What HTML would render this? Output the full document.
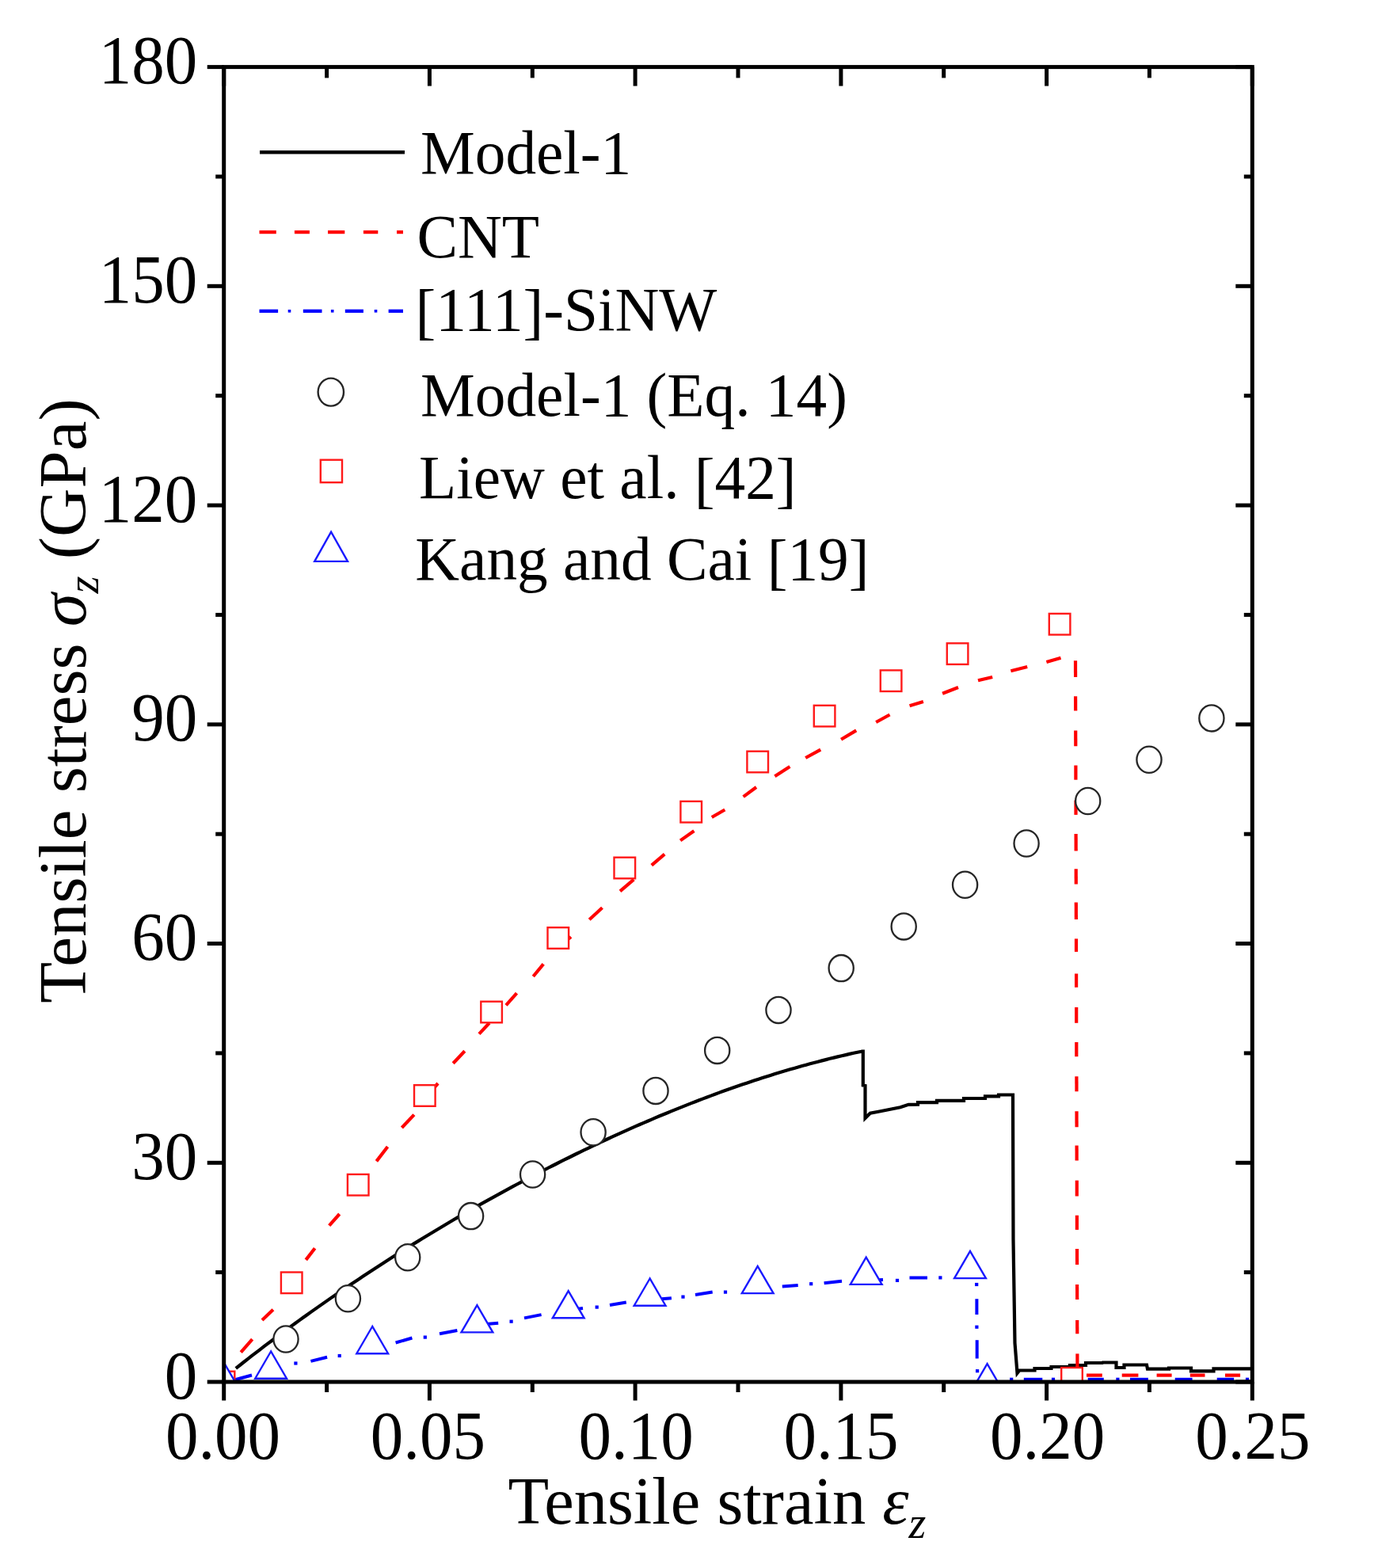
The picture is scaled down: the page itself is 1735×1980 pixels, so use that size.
<!DOCTYPE html>
<html><head><meta charset="utf-8"><title>Tensile stress vs strain</title>
<style>html,body{margin:0;padding:0;background:#fff;} svg{display:block;}</style>
</head><body>
<svg width="1735" height="1980" viewBox="0 0 1735 1980">
<rect x="0" y="0" width="1735" height="1980" fill="#fff"/>
<defs><clipPath id="pa"><rect x="282.7" y="84.6" width="1298.6" height="1660.4"/></clipPath></defs>
<g clip-path="url(#pa)">
<polyline points="297.8,1727.9 302.8,1724.0 307.8,1720.0 312.8,1716.1 317.8,1712.2 322.8,1708.4 327.8,1704.6 332.8,1700.7 337.8,1696.9 342.8,1693.2 347.8,1689.4 352.8,1685.7 357.8,1682.0 362.8,1678.3 367.8,1674.6 372.8,1671.0 377.8,1667.4 382.8,1663.8 387.8,1660.2 392.8,1656.6 397.8,1653.1 402.8,1649.6 407.8,1646.1 412.8,1642.6 417.8,1639.1 422.8,1635.7 427.8,1632.2 432.8,1628.8 437.8,1625.4 442.8,1622.0 447.8,1618.7 452.8,1615.4 457.8,1612.0 462.8,1608.7 467.8,1605.4 472.8,1602.2 477.8,1598.9 482.8,1595.7 487.8,1592.5 492.8,1589.3 497.8,1586.1 502.8,1582.9 507.8,1579.8 512.8,1576.7 517.8,1573.5 522.8,1570.4 527.8,1567.4 532.8,1564.3 537.8,1561.2 542.8,1558.2 547.8,1555.2 552.8,1552.2 557.8,1549.2 562.8,1546.2 567.8,1543.3 572.8,1540.3 577.8,1537.4 582.8,1534.5 587.8,1531.6 592.8,1528.7 597.8,1525.9 602.8,1523.0 607.8,1520.2 612.8,1517.4 617.8,1514.6 622.8,1511.8 627.8,1509.1 632.8,1506.3 637.8,1503.6 642.8,1500.9 647.8,1498.2 652.8,1495.5 657.8,1492.8 662.8,1490.1 667.8,1487.5 672.8,1484.9 677.8,1482.3 682.8,1479.7 687.8,1477.1 692.8,1474.5 697.8,1472.0 702.8,1469.5 707.8,1466.9 712.8,1464.4 717.8,1462.0 722.8,1459.5 727.8,1457.0 732.8,1454.6 737.8,1452.2 742.8,1449.8 747.8,1447.4 752.8,1445.0 757.8,1442.7 762.8,1440.3 767.8,1438.0 772.8,1435.7 777.8,1433.4 782.8,1431.1 787.8,1428.9 792.8,1426.6 797.8,1424.4 802.8,1422.2 807.8,1420.0 812.8,1417.8 817.8,1415.7 822.8,1413.6 827.8,1411.4 832.8,1409.3 837.8,1407.2 842.8,1405.2 847.8,1403.1 852.8,1401.1 857.8,1399.1 862.8,1397.1 867.8,1395.1 872.8,1393.1 877.8,1391.2 882.8,1389.3 887.8,1387.4 892.8,1385.5 897.8,1383.6 902.8,1381.8 907.8,1379.9 912.8,1378.1 917.8,1376.3 922.8,1374.6 927.8,1372.8 932.8,1371.1 937.8,1369.3 942.8,1367.7 947.8,1366.0 952.8,1364.3 957.8,1362.7 962.8,1361.1 967.8,1359.5 972.8,1357.9 977.8,1356.3 982.8,1354.8 987.8,1353.3 992.8,1351.8 997.8,1350.3 1002.8,1348.9 1007.8,1347.5 1012.8,1346.1 1017.8,1344.7 1022.8,1343.3 1027.8,1342.0 1032.8,1340.7 1037.8,1339.4 1042.8,1338.1 1047.8,1336.8 1052.8,1335.6 1057.8,1334.4 1062.8,1333.2 1067.8,1332.1 1072.8,1330.9 1077.8,1329.8 1082.8,1328.7 1087.8,1327.7 1088.4,1327.5 1089.8,1327.5 1089.8,1370.5 1092.5,1371.0 1092.5,1412.0 1098.8,1405.8 1109.2,1403.7 1123.0,1401.0 1136.8,1398.2 1147.2,1394.8 1159.0,1394.6 1159.0,1392.2 1183.0,1392.2 1183.0,1389.8 1217.0,1389.8 1217.0,1387.0 1244.0,1387.0 1244.0,1384.4 1261.0,1384.4 1261.0,1382.5 1279.0,1382.5 1279.5,1565.0 1281.5,1696.0 1284.5,1734.0 1287.3,1730.5 1306.5,1730.5 1306.5,1728.0 1327.5,1728.0 1327.5,1726.0 1351.0,1726.0 1351.0,1724.0 1371.0,1724.0 1371.0,1721.0 1392.0,1721.0 1392.5,1720.5 1409.5,1720.5 1409.5,1727.0 1419.5,1727.0 1419.5,1723.5 1448.0,1723.5 1449.0,1728.7 1476.0,1728.7 1476.0,1727.5 1504.0,1727.5 1504.0,1731.4 1532.5,1731.4 1532.5,1728.4 1585.0,1728.4" fill="none" stroke="#000" stroke-width="4.2" stroke-linejoin="miter" stroke-miterlimit="3"/>
<g stroke="#ff0000" stroke-width="4.2" stroke-linecap="butt">
<line x1="304.2" y1="1707.6" x2="318.6" y2="1691.2"/>
<line x1="331.0" y1="1667.0" x2="344.9" y2="1653.8"/>
<line x1="386.3" y1="1590.9" x2="397.6" y2="1576.2"/>
<line x1="415.7" y1="1547.7" x2="428.7" y2="1533.0"/>
<line x1="475.4" y1="1466.4" x2="489.5" y2="1448.0"/>
<line x1="507.4" y1="1424.0" x2="522.9" y2="1407.6"/>
<line x1="540.0" y1="1383.0" x2="553.0" y2="1368.0"/>
<line x1="572.2" y1="1342.8" x2="586.8" y2="1327.2"/>
<line x1="605.0" y1="1305.6" x2="617.9" y2="1291.8"/>
<line x1="639.0" y1="1269.3" x2="652.5" y2="1254.2"/>
<line x1="673.3" y1="1233.0" x2="686.2" y2="1217.4"/>
<line x1="708.0" y1="1194.0" x2="721.0" y2="1183.0"/>
<line x1="744.2" y1="1161.2" x2="760.5" y2="1146.2"/>
<line x1="783.0" y1="1125.4" x2="800.3" y2="1110.7"/>
<line x1="822.8" y1="1092.6" x2="839.2" y2="1078.7"/>
<line x1="859.1" y1="1061.4" x2="876.4" y2="1049.3"/>
<line x1="898.8" y1="1032.0" x2="915.3" y2="1022.5"/>
<line x1="938.6" y1="1006.1" x2="955.0" y2="994.0"/>
<line x1="978.4" y1="980.2" x2="997.4" y2="968.1"/>
<line x1="1017.2" y1="957.0" x2="1036.2" y2="946.6"/>
<line x1="1062.1" y1="933.7" x2="1081.2" y2="922.4"/>
<line x1="1106.2" y1="912.0" x2="1123.5" y2="902.5"/>
<line x1="1148.6" y1="891.3" x2="1165.9" y2="886.1"/>
<line x1="1190.1" y1="875.7" x2="1210.0" y2="868.0"/>
<line x1="1235.0" y1="859.3" x2="1253.2" y2="855.0"/>
<line x1="1276.4" y1="847.2" x2="1297.2" y2="842.0"/>
<line x1="1321.4" y1="836.0" x2="1339.5" y2="830.8"/>
<line x1="1358.0" y1="834.2" x2="1358.1" y2="855.0"/>
<line x1="1358.1" y1="879.2" x2="1358.2" y2="897.4"/>
<line x1="1358.2" y1="922.4" x2="1358.3" y2="942.3"/>
<line x1="1358.4" y1="966.5" x2="1358.4" y2="984.7"/>
<line x1="1358.5" y1="1010.6" x2="1358.5" y2="1028.9"/>
<line x1="1358.6" y1="1053.1" x2="1358.7" y2="1074.5"/>
<line x1="1358.7" y1="1097.2" x2="1358.8" y2="1116.6"/>
<line x1="1358.8" y1="1139.6" x2="1358.9" y2="1161.0"/>
<line x1="1359.0" y1="1185.4" x2="1359.0" y2="1201.9"/>
<line x1="1359.1" y1="1229.5" x2="1359.1" y2="1246.8"/>
<line x1="1359.2" y1="1271.9" x2="1359.2" y2="1291.8"/>
<line x1="1359.3" y1="1316.0" x2="1359.3" y2="1334.2"/>
<line x1="1359.4" y1="1359.2" x2="1359.5" y2="1378.2"/>
<line x1="1359.5" y1="1403.3" x2="1359.6" y2="1423.2"/>
<line x1="1359.6" y1="1446.5" x2="1359.7" y2="1465.6"/>
<line x1="1359.8" y1="1490.6" x2="1359.8" y2="1510.5"/>
<line x1="1359.9" y1="1534.7" x2="1359.9" y2="1552.9"/>
<line x1="1360.0" y1="1577.0" x2="1360.1" y2="1597.0"/>
<line x1="1360.1" y1="1622.0" x2="1360.2" y2="1641.0"/>
<line x1="1360.2" y1="1667.0" x2="1360.3" y2="1684.3"/>
<line x1="1360.4" y1="1709.4" x2="1360.4" y2="1726.7"/>
<line x1="1372.0" y1="1736.6" x2="1391.8" y2="1736.6"/>
<line x1="1416.7" y1="1736.6" x2="1437.4" y2="1736.6"/>
<line x1="1460.6" y1="1736.6" x2="1479.6" y2="1736.6"/>
<line x1="1502.8" y1="1736.6" x2="1521.5" y2="1736.6"/>
<line x1="1547.0" y1="1736.6" x2="1566.1" y2="1736.6"/>
</g>
<g stroke="#0000ff" stroke-width="4.0" stroke-linecap="butt">
<line x1="296.0" y1="1742.5" x2="318.0" y2="1736.5"/>
<line x1="392.4" y1="1718.9" x2="413.1" y2="1713.7"/>
<line x1="499.6" y1="1695.5" x2="520.4" y2="1689.5"/>
<line x1="555.0" y1="1684.3" x2="577.4" y2="1680.0"/>
<line x1="608.0" y1="1672.5" x2="629.2" y2="1670.8"/>
<line x1="662.0" y1="1664.4" x2="683.6" y2="1660.1"/>
<line x1="714.0" y1="1655.0" x2="736.0" y2="1652.0"/>
<line x1="770.0" y1="1648.0" x2="790.8" y2="1644.5"/>
<line x1="826.0" y1="1641.0" x2="847.9" y2="1639.3"/>
<line x1="878.0" y1="1635.0" x2="899.7" y2="1631.6"/>
<line x1="987.8" y1="1624.6" x2="1007.7" y2="1622.9"/>
<line x1="1040.6" y1="1620.3" x2="1063.0" y2="1617.7"/>
<line x1="1093.0" y1="1617.0" x2="1115.0" y2="1616.0"/>
<line x1="1148.5" y1="1613.6" x2="1171.0" y2="1613.4"/>
<line x1="1233.7" y1="1692.2" x2="1233.7" y2="1715.5"/>
<line x1="1233.4" y1="1640.2" x2="1233.4" y2="1660.0"/>
<line x1="1292.8" y1="1741.8" x2="1316.3" y2="1741.8"/>
<line x1="1373.7" y1="1741.8" x2="1393.8" y2="1741.8"/>
<line x1="1427.0" y1="1741.8" x2="1449.9" y2="1741.8"/>
<line x1="1483.7" y1="1741.8" x2="1505.6" y2="1741.8"/>
<line x1="1536.7" y1="1741.8" x2="1558.2" y2="1741.8"/>
<rect x="371.3" y="1719.4" width="4.2" height="4.2" stroke="none" fill="#0000ff"/>
<rect x="426.6" y="1709.9" width="4.2" height="4.2" stroke="none" fill="#0000ff"/>
<rect x="534.7" y="1686.5" width="4.2" height="4.2" stroke="none" fill="#0000ff"/>
<rect x="643.5" y="1666.6" width="4.2" height="4.2" stroke="none" fill="#0000ff"/>
<rect x="751.6" y="1648.5" width="4.2" height="4.2" stroke="none" fill="#0000ff"/>
<rect x="860.4" y="1635.5" width="4.2" height="4.2" stroke="none" fill="#0000ff"/>
<rect x="913.9" y="1629.5" width="4.2" height="4.2" stroke="none" fill="#0000ff"/>
<rect x="1022.1" y="1619.1" width="4.2" height="4.2" stroke="none" fill="#0000ff"/>
<rect x="1130.9" y="1614.8" width="4.2" height="4.2" stroke="none" fill="#0000ff"/>
<rect x="1185.3" y="1611.3" width="4.2" height="4.2" stroke="none" fill="#0000ff"/>
<rect x="1231.1" y="1619.9" width="4.2" height="4.2" stroke="none" fill="#0000ff"/>
<rect x="1231.3" y="1673.6" width="4.2" height="4.2" stroke="none" fill="#0000ff"/>
<rect x="1232.0" y="1729.1" width="4.2" height="4.2" stroke="none" fill="#0000ff"/>
<rect x="1275.1" y="1739.7" width="4.2" height="4.2" stroke="none" fill="#0000ff"/>
<rect x="1327.9" y="1739.7" width="4.2" height="4.2" stroke="none" fill="#0000ff"/>
<rect x="1409.3" y="1739.7" width="4.2" height="4.2" stroke="none" fill="#0000ff"/>
<rect x="1572.9" y="1739.7" width="4.2" height="4.2" stroke="none" fill="#0000ff"/>
</g>
<ellipse cx="361" cy="1691" rx="15.6" ry="16.6" fill="#fff" stroke="#262626" stroke-width="2.3"/>
<ellipse cx="439.4" cy="1639.7" rx="15.6" ry="16.6" fill="#fff" stroke="#262626" stroke-width="2.3"/>
<ellipse cx="514.7" cy="1587.8" rx="15.6" ry="16.6" fill="#fff" stroke="#262626" stroke-width="2.3"/>
<ellipse cx="594.6" cy="1535.6" rx="15.6" ry="16.6" fill="#fff" stroke="#262626" stroke-width="2.3"/>
<ellipse cx="672.6" cy="1483" rx="15.6" ry="16.6" fill="#fff" stroke="#262626" stroke-width="2.3"/>
<ellipse cx="749.1" cy="1429.8" rx="15.6" ry="16.6" fill="#fff" stroke="#262626" stroke-width="2.3"/>
<ellipse cx="828" cy="1377.4" rx="15.6" ry="16.6" fill="#fff" stroke="#262626" stroke-width="2.3"/>
<ellipse cx="905.7" cy="1326.4" rx="15.6" ry="16.6" fill="#fff" stroke="#262626" stroke-width="2.3"/>
<ellipse cx="983" cy="1275.4" rx="15.6" ry="16.6" fill="#fff" stroke="#262626" stroke-width="2.3"/>
<ellipse cx="1062.2" cy="1222.6" rx="15.6" ry="16.6" fill="#fff" stroke="#262626" stroke-width="2.3"/>
<ellipse cx="1141.2" cy="1169.9" rx="15.6" ry="16.6" fill="#fff" stroke="#262626" stroke-width="2.3"/>
<ellipse cx="1218.6" cy="1117.3" rx="15.6" ry="16.6" fill="#fff" stroke="#262626" stroke-width="2.3"/>
<ellipse cx="1296.1" cy="1065" rx="15.6" ry="16.6" fill="#fff" stroke="#262626" stroke-width="2.3"/>
<ellipse cx="1373.7" cy="1011.5" rx="15.6" ry="16.6" fill="#fff" stroke="#262626" stroke-width="2.3"/>
<ellipse cx="1451" cy="959.2" rx="15.6" ry="16.6" fill="#fff" stroke="#262626" stroke-width="2.3"/>
<ellipse cx="1529.9" cy="906.9" rx="15.6" ry="16.6" fill="#fff" stroke="#262626" stroke-width="2.3"/>
<rect x="269.7" y="1731.7" width="26.6" height="26.6" fill="#fff" stroke="#ff1a1a" stroke-width="2.4"/>
<rect x="354.9" y="1606.5" width="26.6" height="26.6" fill="#fff" stroke="#ff1a1a" stroke-width="2.4"/>
<rect x="438.9" y="1482.9" width="26.6" height="26.6" fill="#fff" stroke="#ff1a1a" stroke-width="2.4"/>
<rect x="523.0" y="1370.2" width="26.6" height="26.6" fill="#fff" stroke="#ff1a1a" stroke-width="2.4"/>
<rect x="607.3" y="1264.7" width="26.6" height="26.6" fill="#fff" stroke="#ff1a1a" stroke-width="2.4"/>
<rect x="691.5" y="1171.2" width="26.6" height="26.6" fill="#fff" stroke="#ff1a1a" stroke-width="2.4"/>
<rect x="775.5" y="1082.7" width="26.6" height="26.6" fill="#fff" stroke="#ff1a1a" stroke-width="2.4"/>
<rect x="859.4" y="1011.9" width="26.6" height="26.6" fill="#fff" stroke="#ff1a1a" stroke-width="2.4"/>
<rect x="943.4" y="948.7" width="26.6" height="26.6" fill="#fff" stroke="#ff1a1a" stroke-width="2.4"/>
<rect x="1027.8" y="890.8" width="26.6" height="26.6" fill="#fff" stroke="#ff1a1a" stroke-width="2.4"/>
<rect x="1111.8" y="846.4" width="26.6" height="26.6" fill="#fff" stroke="#ff1a1a" stroke-width="2.4"/>
<rect x="1195.8" y="812.3" width="26.6" height="26.6" fill="#fff" stroke="#ff1a1a" stroke-width="2.4"/>
<rect x="1324.8" y="774.9" width="26.6" height="26.6" fill="#fff" stroke="#ff1a1a" stroke-width="2.4"/>
<rect x="1340.2" y="1727.0" width="26.6" height="26.6" fill="#fff" stroke="#ff1a1a" stroke-width="2.4"/>
<polygon points="283.8,1722.4 263.9,1756.6 303.7,1756.6" fill="#fff" stroke="#1a1aff" stroke-width="2.4"/>
<polygon points="342.1,1706.5 322.2,1740.7 362.0,1740.7" fill="#fff" stroke="#1a1aff" stroke-width="2.4"/>
<polygon points="470.2,1675.0 450.3,1709.2 490.1,1709.2" fill="#fff" stroke="#1a1aff" stroke-width="2.4"/>
<polygon points="602.4,1648.2 582.5,1682.4 622.3,1682.4" fill="#fff" stroke="#1a1aff" stroke-width="2.4"/>
<polygon points="717.7,1630.1 697.8,1664.3 737.6,1664.3" fill="#fff" stroke="#1a1aff" stroke-width="2.4"/>
<polygon points="820.6,1614.5 800.7,1648.7 840.5,1648.7" fill="#fff" stroke="#1a1aff" stroke-width="2.4"/>
<polygon points="956.7,1598.9 936.8,1633.1 976.6,1633.1" fill="#fff" stroke="#1a1aff" stroke-width="2.4"/>
<polygon points="1093.7,1587.7 1073.8,1621.9 1113.6,1621.9" fill="#fff" stroke="#1a1aff" stroke-width="2.4"/>
<polygon points="1225.0,1579.9 1205.1,1614.1 1244.9,1614.1" fill="#fff" stroke="#1a1aff" stroke-width="2.4"/>
<polygon points="1246.6,1722.1 1226.7,1756.3 1266.5,1756.3" fill="#fff" stroke="#1a1aff" stroke-width="2.4"/>
</g>
<g stroke="#000" stroke-width="5" fill="none" stroke-linecap="butt"><rect x="282.7" y="84.6" width="1298.6" height="1660.4" fill="none" stroke="#000" stroke-width="5"/>
<line x1="282.7" y1="1745.0" x2="282.7" y2="1768.5"/>
<line x1="282.7" y1="84.6" x2="282.7" y2="108.6"/>
<line x1="412.6" y1="1745.0" x2="412.6" y2="1758.0"/>
<line x1="412.6" y1="84.6" x2="412.6" y2="98.39999999999999"/>
<line x1="542.4" y1="1745.0" x2="542.4" y2="1768.5"/>
<line x1="542.4" y1="84.6" x2="542.4" y2="108.6"/>
<line x1="672.3" y1="1745.0" x2="672.3" y2="1758.0"/>
<line x1="672.3" y1="84.6" x2="672.3" y2="98.39999999999999"/>
<line x1="802.1" y1="1745.0" x2="802.1" y2="1768.5"/>
<line x1="802.1" y1="84.6" x2="802.1" y2="108.6"/>
<line x1="932.0" y1="1745.0" x2="932.0" y2="1758.0"/>
<line x1="932.0" y1="84.6" x2="932.0" y2="98.39999999999999"/>
<line x1="1061.9" y1="1745.0" x2="1061.9" y2="1768.5"/>
<line x1="1061.9" y1="84.6" x2="1061.9" y2="108.6"/>
<line x1="1191.7" y1="1745.0" x2="1191.7" y2="1758.0"/>
<line x1="1191.7" y1="84.6" x2="1191.7" y2="98.39999999999999"/>
<line x1="1321.6" y1="1745.0" x2="1321.6" y2="1768.5"/>
<line x1="1321.6" y1="84.6" x2="1321.6" y2="108.6"/>
<line x1="1451.4" y1="1745.0" x2="1451.4" y2="1758.0"/>
<line x1="1451.4" y1="84.6" x2="1451.4" y2="98.39999999999999"/>
<line x1="1581.3" y1="1745.0" x2="1581.3" y2="1768.5"/>
<line x1="1581.3" y1="84.6" x2="1581.3" y2="108.6"/>
<line x1="261.7" y1="1745.0" x2="282.7" y2="1745.0"/>
<line x1="1560.3" y1="1745.0" x2="1581.3" y2="1745.0"/>
<line x1="272.2" y1="1606.6" x2="282.7" y2="1606.6"/>
<line x1="1570.8" y1="1606.6" x2="1581.3" y2="1606.6"/>
<line x1="261.7" y1="1468.3" x2="282.7" y2="1468.3"/>
<line x1="1560.3" y1="1468.3" x2="1581.3" y2="1468.3"/>
<line x1="272.2" y1="1329.9" x2="282.7" y2="1329.9"/>
<line x1="1570.8" y1="1329.9" x2="1581.3" y2="1329.9"/>
<line x1="261.7" y1="1191.5" x2="282.7" y2="1191.5"/>
<line x1="1560.3" y1="1191.5" x2="1581.3" y2="1191.5"/>
<line x1="272.2" y1="1053.2" x2="282.7" y2="1053.2"/>
<line x1="1570.8" y1="1053.2" x2="1581.3" y2="1053.2"/>
<line x1="261.7" y1="914.8" x2="282.7" y2="914.8"/>
<line x1="1560.3" y1="914.8" x2="1581.3" y2="914.8"/>
<line x1="272.2" y1="776.4" x2="282.7" y2="776.4"/>
<line x1="1570.8" y1="776.4" x2="1581.3" y2="776.4"/>
<line x1="261.7" y1="638.1" x2="282.7" y2="638.1"/>
<line x1="1560.3" y1="638.1" x2="1581.3" y2="638.1"/>
<line x1="272.2" y1="499.7" x2="282.7" y2="499.7"/>
<line x1="1570.8" y1="499.7" x2="1581.3" y2="499.7"/>
<line x1="261.7" y1="361.3" x2="282.7" y2="361.3"/>
<line x1="1560.3" y1="361.3" x2="1581.3" y2="361.3"/>
<line x1="272.2" y1="223.0" x2="282.7" y2="223.0"/>
<line x1="1570.8" y1="223.0" x2="1581.3" y2="223.0"/>
<line x1="261.7" y1="84.6" x2="282.7" y2="84.6"/>
<line x1="1560.3" y1="84.6" x2="1581.3" y2="84.6"/></g>
<g font-family='"Liberation Serif", "Times New Roman", serif' font-size="83" fill="#000"><text transform="translate(281.5,1842.3) scale(1,1.04)" text-anchor="middle">0.00</text>
<text transform="translate(540.4,1842.3) scale(1,1.04)" text-anchor="middle">0.05</text>
<text transform="translate(803.2,1842.3) scale(1,1.04)" text-anchor="middle">0.10</text>
<text transform="translate(1062.0,1842.3) scale(1,1.04)" text-anchor="middle">0.15</text>
<text transform="translate(1322.7,1842.3) scale(1,1.04)" text-anchor="middle">0.20</text>
<text transform="translate(1581.9,1842.3) scale(1,1.04)" text-anchor="middle">0.25</text>
<text transform="translate(249.3,1765.6) scale(1,1.04)" text-anchor="end">0</text>
<text transform="translate(249.3,1488.9) scale(1,1.04)" text-anchor="end">30</text>
<text transform="translate(249.3,1212.1) scale(1,1.04)" text-anchor="end">60</text>
<text transform="translate(249.3,935.4) scale(1,1.04)" text-anchor="end">90</text>
<text transform="translate(249.3,658.7) scale(1,1.04)" text-anchor="end">120</text>
<text transform="translate(249.3,381.9) scale(1,1.04)" text-anchor="end">150</text>
<text transform="translate(249.3,105.2) scale(1,1.04)" text-anchor="end">180</text></g>
<text font-family='"Liberation Serif", "Times New Roman", serif' font-size="84.5" fill="#000" x="641.5" y="1923.5">Tensile strain <tspan font-style="italic">ε</tspan><tspan font-style="italic" font-size="56" dy="18">z</tspan></text>
<text font-family='"Liberation Serif", "Times New Roman", serif' font-size="85" fill="#000" transform="translate(107.7,1266.8) rotate(-90)" x="0" y="0">Tensile stress <tspan font-style="italic">σ</tspan><tspan font-style="italic" font-size="56" dy="16">z</tspan><tspan dy="-16"> (GPa)</tspan></text>
<g><line x1="328" y1="192.2" x2="511" y2="192.2" stroke="#000" stroke-width="4.6"/>
<line x1="327.5" y1="293.1" x2="348.8" y2="293.1" stroke="#ff0000" stroke-width="4.3"/>
<line x1="371.9" y1="293.1" x2="390.9" y2="293.1" stroke="#ff0000" stroke-width="4.3"/>
<line x1="414" y1="293.1" x2="435.3" y2="293.1" stroke="#ff0000" stroke-width="4.3"/>
<line x1="458.9" y1="293.1" x2="477.3" y2="293.1" stroke="#ff0000" stroke-width="4.3"/>
<line x1="501" y1="293.1" x2="509" y2="293.1" stroke="#ff0000" stroke-width="4.3"/>
<line x1="327.5" y1="392.8" x2="351.1" y2="392.8" stroke="#0000ff" stroke-width="4.3"/>
<line x1="382.8" y1="392.8" x2="406.5" y2="392.8" stroke="#0000ff" stroke-width="4.3"/>
<line x1="435.8" y1="392.8" x2="458.9" y2="392.8" stroke="#0000ff" stroke-width="4.3"/>
<line x1="490.6" y1="392.8" x2="509" y2="392.8" stroke="#0000ff" stroke-width="4.3"/>
<rect x="363.7" y="391" width="3.6" height="3.6" fill="#0000ff"/>
<rect x="417.9" y="391" width="3.6" height="3.6" fill="#0000ff"/>
<rect x="472.7" y="391" width="3.6" height="3.6" fill="#0000ff"/>
<ellipse cx="417.8" cy="495.1" rx="16.2" ry="17.5" fill="#fff" stroke="#262626" stroke-width="2.4"/>
<rect x="404.8" y="580.7" width="27.2" height="28.5" fill="#fff" stroke="#ff1a1a" stroke-width="2.4"/>
<polygon points="418.1,671.6 397.2,708.9 439.0,708.9" fill="#fff" stroke="#1a1aff" stroke-width="2.4"/></g>
<g font-family='"Liberation Serif", "Times New Roman", serif' font-size="77.3" fill="#000"><text x="531" y="218.8">Model-1</text>
<text x="526.4" y="325">CNT</text>
<text x="524.6" y="417"><tspan dy="3.3">[</tspan><tspan dy="-3.3">111</tspan><tspan dy="3.3">]</tspan><tspan dy="-3.3">-SiNW</tspan></text>
<text x="531.1" y="524.6">Model-1 (Eq. 14)</text>
<text x="529.1" y="629.2">Liew et al. <tspan dy="3.3">[</tspan><tspan dy="-3.3">42</tspan><tspan dy="3.3">]</tspan></text>
<text x="524.3" y="732.4">Kang and Cai <tspan dy="3.3">[</tspan><tspan dy="-3.3">19</tspan><tspan dy="3.3">]</tspan></text></g>
</svg>
</body></html>
